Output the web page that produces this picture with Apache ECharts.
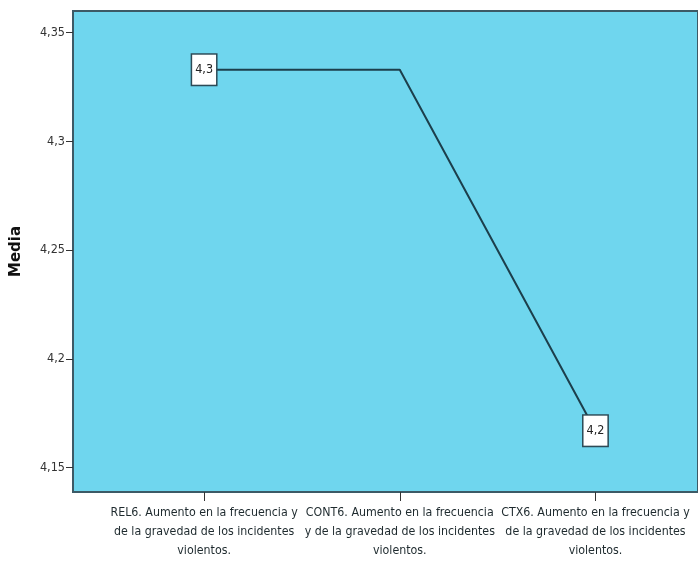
<!DOCTYPE html>
<html>
<head>
<meta charset="utf-8">
<script src="https://cdn.jsdelivr.net/npm/echarts@6/dist/echarts.min.js"></script>
<style>
html,body{margin:0;padding:0;background:#fff;}
#c{width:698px;height:561px;}
</style>
</head>
<body>
<div id="c"></div>
<script>
const categories = [
  "REL6. Aumento en la frecuencia y\nde la gravedad de los incidentes\nviolentos.",
  "CONT6. Aumento en la frecuencia\ny de la gravedad de los incidentes\nviolentos.",
  "CTX6. Aumento en la frecuencia y\nde la gravedad de los incidentes\nviolentos."
];
const means = [4.333, 4.333, 4.167];
const showValueLabel = [true, false, true];
const yTicks = [4.15, 4.2, 4.25, 4.3, 4.35];
const yTickLabels = ["4,15", "4,2", "4,25", "4,3", "4,35"];

const font = "'Liberation Sans Narrow', 'DejaVu Sans Condensed', 'Arial Narrow', sans-serif";
const chart = echarts.init(document.getElementById('c'));
chart.setOption({
  animation: false,
  grid: {
    left: 73, right: -3, top: 11, bottom: 69,
    show: true, backgroundColor: '#6fd6ee', borderColor: '#3c5a66', borderWidth: 2
  },
  xAxis: {
    type: 'value',
    min: -0.67, max: 2.524,
    splitLine: {show: false},
    axisLine: {show: true, onZero: false, lineStyle: {color: '#3c5a66', width: 2}},
    axisTick: {show: true, length: 9, interval: 0, customValues: [0, 1, 2], lineStyle: {color: '#333', width: 1}},
    axisLabel: {
      customValues: [0, 1, 2],
      interval: 0, hideOverlap: false,
      formatter: v => categories[Math.round(v)],
      color: '#1e2a2e', fontSize: 12.3, lineHeight: 19, fontFamily: font, margin: 11
    }
  },
  yAxis: {
    type: 'value',
    min: 4.1388, max: 4.36,
    name: 'Media', nameLocation: 'middle', nameGap: 49,
    nameTextStyle: {fontWeight: 'bold', fontSize: 15, color: '#111', fontFamily: 'DejaVu Sans'},
    splitLine: {show: false},
    axisLine: {show: true, onZero: false, lineStyle: {color: '#3c5a66', width: 2}},
    axisTick: {show: true, length: 7, customValues: yTicks, lineStyle: {color: '#333', width: 1}},
    axisLabel: {
      customValues: yTicks,
      formatter: v => yTickLabels[yTicks.findIndex(t => Math.abs(t - v) < 1e-6)] || '',
      color: '#333', fontSize: 12.5, fontFamily: font, margin: 8
    }
  },
  series: [{
    type: 'line',
    data: means.map((v, i) => ({value: [i, v], label: {show: showValueLabel[i]}})),
    symbol: 'circle', symbolSize: 1,
    itemStyle: {color: '#1c3f4c'},
    lineStyle: {color: '#1c3f4c', width: 2},
    label: {
      show: true, position: 'inside',
      formatter: p => p.value[1].toFixed(1).replace('.', ','),
      color: '#222', fontSize: 12.5, fontFamily: font,
      backgroundColor: '#ffffff', borderColor: '#2c4a56', borderWidth: 1.5,
      padding: [9, 3, 8, 3]
    }
  }]
});
</script>
</body>
</html>
